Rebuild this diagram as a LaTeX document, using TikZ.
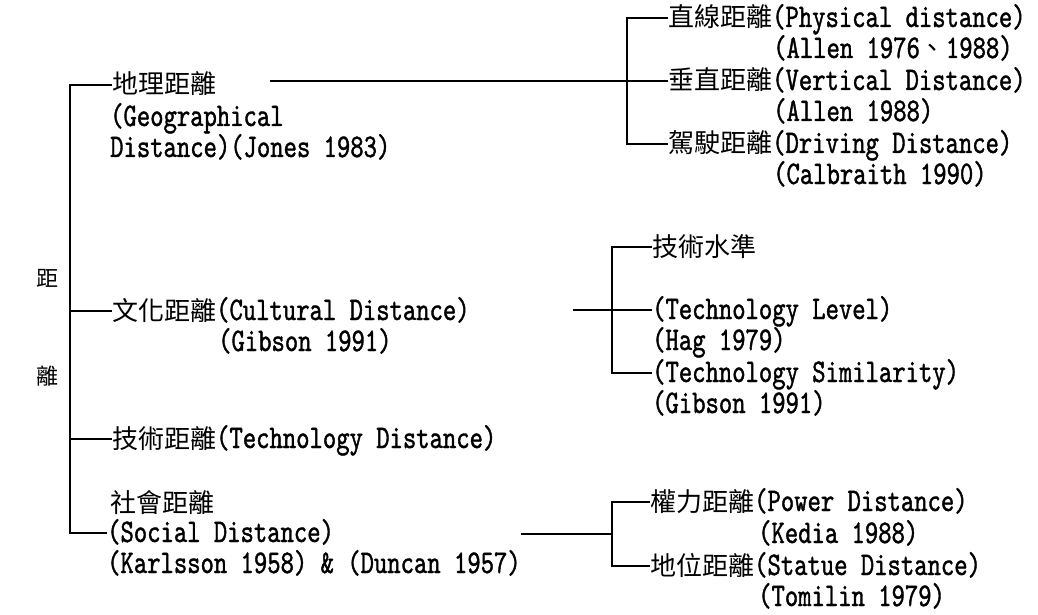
\documentclass[tikz,border=0pt]{standalone}
\usepackage{fontspec}
\newfontfamily\latf[FakeStretch=0.77,FakeBold=1.2]{lmmono10-regular.otf}
\newfontfamily\cjkf{Noto Sans CJK TC}
\newcommand\C[1]{{\cjkf\fontsize{26}{26}\selectfont #1}}
\begin{document}
\begin{tikzpicture}[x=1pt,y=-1pt,
  tx/.style={anchor=west, inner sep=0pt, text height=20pt, text depth=2pt,
    font=\latf\fontsize{33}{33}\selectfont},
  ttl/.style={inner sep=0pt, font=\cjkf\fontsize{22}{22}\selectfont},
  ln/.style={line width=1.6pt}]
\useasboundingbox (0,0) rectangle (1038,615);
% title
\node[ttl] (t1) at (47,278) {距};
\node[ttl] (t2) at (47,376) {離};
% left column
\node[tx] (geo)  at (112,85)  {\C{地理距離}};
\node[tx] (geo2) at (110,117) {(Geographical};
\node[tx] (geo3) at (110,148) {Distance)(Jones 1983)};
\node[tx] (cul)  at (112,311) {\C{文化距離}(Cultural Distance)};
\node[tx] (cul2) at (218,342) {(Gibson 1991)};
\node[tx] (tec)  at (112,439) {\C{技術距離}(Technology Distance)};
\node[tx] (soc1) at (110,503) {\C{社會距離}};
\node[tx] (soc)  at (107,533) {(Social Distance)};
\node[tx] (soc3) at (107,564) {(Karlsson 1958) \& (Duncan 1957)};
% top right
\node[tx] (phy)  at (668,18)  {\C{直線距離}(Physical distance)};
\node[tx] (phy2) at (773,49)  {(Allen 1976\C{、}1988)};
\node[tx] (ver)  at (668,81)  {\C{垂直距離}(Vertical Distance)};
\node[tx] (ver2) at (773,112) {(Allen 1988)};
\node[tx] (dri)  at (668,144) {\C{駕駛距離}(Driving Distance)};
\node[tx] (dri2) at (773,175) {(Calbraith 1990)};
% middle right
\node[tx] (tl0)  at (652,247) {\C{技術水準}};
\node[tx] (tl)   at (652,310) {(Technology Level)};
\node[tx] (tl2)  at (652,341) {(Hag 1979)};
\node[tx] (ts)   at (652,373) {(Technology Similarity)};
\node[tx] (ts2)  at (652,404) {(Gibson 1991)};
% bottom right
\node[tx] (pow)  at (650,502) {\C{權力距離}(Power Distance)};
\node[tx] (pow2) at (758,534) {(Kedia 1988)};
\node[tx] (sta)  at (650,566) {\C{地位距離}(Statue Distance)};
\node[tx] (sta2) at (758,597) {(Tomilin 1979)};
% junction coordinates
\coordinate (lt) at (70,0);
\coordinate (rt) at (627,0);
\coordinate (mt) at (612,0);
\coordinate (gs) at (270,81);
\coordinate (cs) at (573,310);
\coordinate (ss) at (521,534);
% left trunk
\draw[ln] (geo.west) -- (geo.west -| lt) -- (soc.west -| lt) -- (soc.west);
\draw[ln] (cul.west -| lt) -- (cul.west);
\draw[ln] (tec.west -| lt) -- (tec.west);
% top right
\draw[ln] (phy.west) -- (phy.west -| rt) -- (dri.west -| rt) -- (dri.west);
\draw[ln] (gs) -- (ver.west);
% middle right
\draw[ln] (tl0.west) -- (tl0.west -| mt) -- (ts.west -| mt) -- (ts.west);
\draw[ln] (cs) -- (tl.west);
% bottom right
\draw[ln] (pow.west) -- (pow.west -| mt) -- (sta.west -| mt) -- (sta.west);
\draw[ln] (ss) -- (ss -| mt);
\end{tikzpicture}
\end{document}
